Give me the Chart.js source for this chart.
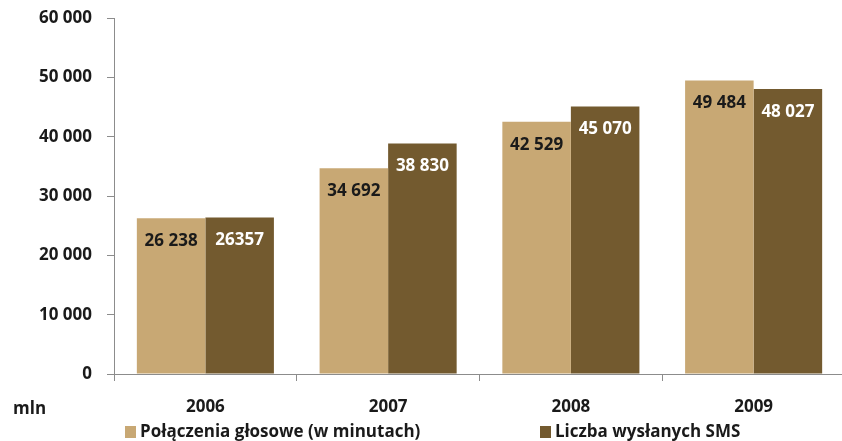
<!DOCTYPE html>
<html lang="pl">
<head>
    <meta charset="UTF-8">
    <title>Połączenia głosowe i SMS</title>
    <script src="https://cdn.jsdelivr.net/npm/chart.js"></script>
    <style>
        body {
            margin: 0;
            background: #ffffff;
            overflow: hidden;
        }

        .chart-box {
            position: relative;
            width: 850px;
            height: 441px;
        }
    </style>
</head>
<body>
    <div class="chart-box">
        <canvas id="trafficChart"></canvas>
    </div>

    <script>
        const years = ['2006', '2007', '2008', '2009'];
        const voiceMinutes = [26238, 34692, 42529, 49484];
        const smsCount = [26357, 38830, 45070, 48027];
        // labels as printed on the bars (the 2006 SMS one has no space)
        const voiceLabels = ['26 238', '34 692', '42 529', '49 484'];
        const smsLabels = ['26357', '38 830', '45 070', '48 027'];
        const seriesNames = ['Połączenia głosowe (w minutach)', 'Liczba wysłanych SMS'];
        const unitLabel = 'mln';

        const TAN = '#c8a874';
        const BROWN = '#735a2f';
        const FONT = "'Open Sans', sans-serif";

        const fmt = v => String(v).replace(/\B(?=(\d{3})+(?!\d))/g, ' ');

        const barLabels = {
            id: 'barLabels',
            afterDatasetsDraw(chart) {
                const ctx = chart.ctx;
                ctx.save();
                ctx.font = `bold 17px ${FONT}`;
                ctx.textAlign = 'center';
                ctx.textBaseline = 'middle';
                chart.data.datasets.forEach((ds, i) => {
                    chart.getDatasetMeta(i).data.forEach((bar, j) => {
                        ctx.fillStyle = ds.labelColor;
                        ctx.fillText(ds.valueLabels[j], bar.x, bar.y + 23);
                    });
                });
                ctx.restore();
            }
        };

        // bottom legend + unit text, laid out like the original
        const bottomLegend = {
            id: 'bottomLegend',
            afterDraw(chart) {
                const ctx = chart.ctx;
                ctx.save();
                ctx.textBaseline = 'middle';
                ctx.fillStyle = '#1a1a1a';
                ctx.font = `bold 17px ${FONT}`;
                ctx.fillText(unitLabel, 13, 409);

                const starts = [125, 540];
                chart.data.datasets.forEach((ds, i) => {
                    const x = starts[i];
                    ctx.fillStyle = ds.backgroundColor;
                    ctx.fillRect(x, 426, 11, 12);
                    ctx.fillStyle = '#1a1a1a';
                    ctx.fillText(ds.label, x + 15, 432);
                });
                ctx.restore();
            }
        };

        new Chart(document.getElementById('trafficChart'), {
            type: 'bar',
            data: {
                labels: years,
                datasets: [{
                    label: seriesNames[0],
                    data: voiceMinutes,
                    valueLabels: voiceLabels,
                    labelColor: '#1a1a1a',
                    backgroundColor: TAN
                }, {
                    label: seriesNames[1],
                    data: smsCount,
                    valueLabels: smsLabels,
                    labelColor: '#ffffff',
                    backgroundColor: BROWN
                }]
            },
            options: {
                responsive: true,
                maintainAspectRatio: false,
                animation: false,
                layout: {
                    padding: { top: 18, right: 5, left: 0, bottom: 0 }
                },
                datasets: {
                    bar: {
                        categoryPercentage: 0.75,
                        barPercentage: 1
                    }
                },
                plugins: {
                    legend: { display: false },
                    tooltip: { enabled: false }
                },
                scales: {
                    x: {
                        grid: {
                            drawOnChartArea: false,
                            tickLength: 7,
                            color: '#8c8c8c'
                        },
                        border: { color: '#8c8c8c' },
                        ticks: {
                            color: '#1a1a1a',
                            padding: 16,
                            font: { family: FONT, size: 17, weight: 'bold' }
                        },
                        afterFit: s => { s.height = 67; }
                    },
                    y: {
                        min: 0,
                        max: 60000,
                        grid: {
                            drawOnChartArea: false,
                            tickLength: 7,
                            color: '#8c8c8c'
                        },
                        border: { color: '#8c8c8c' },
                        ticks: {
                            stepSize: 10000,
                            color: '#1a1a1a',
                            padding: 15,
                            font: { family: FONT, size: 17, weight: 'bold' },
                            callback: v => fmt(v)
                        },
                        afterFit: s => {
                            s.width = 114;
                            s.paddingTop = 0;
                            s.paddingBottom = 0;
                        }
                    }
                }
            },
            plugins: [barLabels, bottomLegend]
        });
    </script>
</body>
</html>
